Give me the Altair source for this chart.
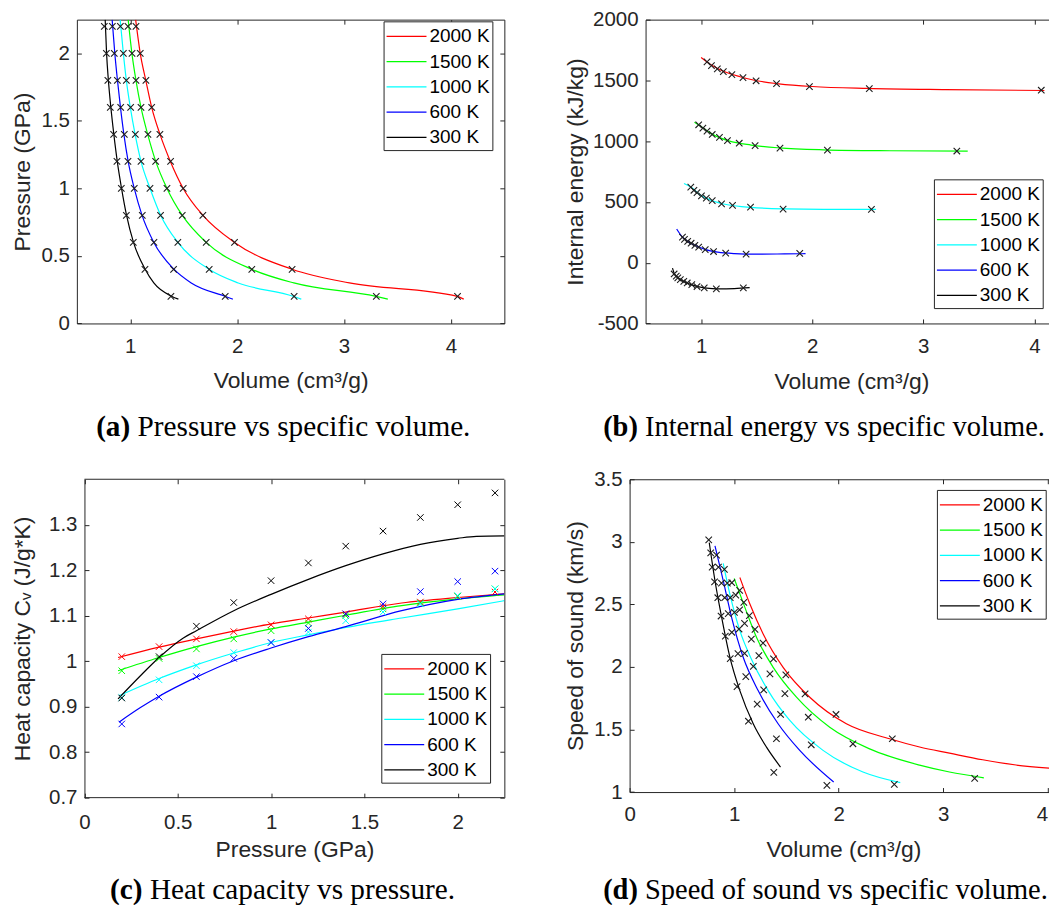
import altair as alt
import pandas as pd

# ---------------- data ----------------
TEMPS = ["2000 K", "1500 K", "1000 K", "600 K", "300 K"]
COLORS = ["#ff0000", "#00ff00", "#00ffff", "#0000ff", "#000000"]

# pressures of the simulated states (GPa)
P_PTS = [0.2, 0.4, 0.6, 0.8, 1.0, 1.2, 1.4, 1.6, 1.8, 2.0, 2.2]

# specific volume of the simulated states (cm3/g), same order as P_PTS
V_2000 = [4.062, 2.514, 1.975, 1.679, 1.495, 1.377, 1.277, 1.200, 1.146, 1.093, 1.053]
V_1500 = [3.302, 2.137, 1.710, 1.486, 1.343, 1.237, 1.165, 1.100, 1.053, 1.016, 0.978]
V_1000 = [2.533, 1.738, 1.445, 1.283, 1.184, 1.100, 1.047, 1.003, 0.963, 0.935, 0.907]
V_600 = [1.888, 1.405, 1.221, 1.112, 1.037, 0.978, 0.944, 0.910, 0.879, 0.850, 0.832]
V_300 = [1.380, 1.137, 1.028, 0.963, 0.916, 0.875, 0.844, 0.813, 0.790, 0.776, 0.757]

# (a) fitted isotherms: pressure grid and volume
CA_P = [0.18, 0.2, 0.3, 0.4, 0.6, 0.8, 1.0, 1.2, 1.4, 1.6, 1.8, 2.0, 2.25]
CA_V_2000 = [4.12, 4.06, 3.05, 2.52, 1.975, 1.68, 1.495, 1.375, 1.278, 1.20, 1.145, 1.093, 1.05]
CA_V_1500 = [3.41, 3.30, 2.53, 2.14, 1.71, 1.487, 1.343, 1.238, 1.163, 1.10, 1.053, 1.015, 0.98]
CA_V_1000 = [2.60, 2.53, 2.01, 1.74, 1.445, 1.285, 1.185, 1.10, 1.045, 1.0, 0.963, 0.935, 0.905]
CA_V_600 = [1.96, 1.89, 1.57, 1.41, 1.22, 1.11, 1.037, 0.98, 0.94, 0.908, 0.88, 0.855, 0.83]
CA_V_300 = [1.45, 1.39, 1.22, 1.14, 1.03, 0.965, 0.918, 0.878, 0.846, 0.818, 0.795, 0.778, 0.765]

# (b) internal energy of the states (kJ/kg)
E_2000 = [1419, 1433, 1449, 1473, 1497, 1523, 1547, 1573, 1595, 1621, 1653]
E_1500 = [919, 927, 943, 963, 983, 1005, 1031, 1055, 1082, 1108, 1135]
E_1000 = [439, 441, 457, 471, 484, 510, 532, 550, 577, 596, 622]
E_600 = [76, 70, 79, 92, 108, 128, 143, 160, 175, 192, 210]
E_300 = [-207, -216, -207, -196, -181, -167, -153, -140, -125, -110, -93]

# (b) fitted curves
CB_V_2000 = [1.00, 1.10, 1.20, 1.35, 1.50, 1.70, 2.00, 2.50, 3.20, 4.09]
CB_E_2000 = [1688, 1622, 1575, 1530, 1497, 1472, 1450, 1434, 1424, 1417]
CB_V_1500 = [0.94, 1.00, 1.10, 1.25, 1.45, 1.70, 2.10, 2.70, 3.40]
CB_E_1500 = [1156, 1120, 1058, 1002, 968, 945, 929, 921, 918]
CB_V_1000 = [0.846, 0.91, 1.00, 1.10, 1.25, 1.45, 1.75, 2.10, 2.575]
CB_E_1000 = [651, 620, 552, 510, 475, 455, 443, 439, 439]
CB_V_600 = [0.78, 0.83, 0.88, 0.95, 1.04, 1.15, 1.30, 1.50, 1.75, 1.94]
CB_E_600 = [277, 212, 175, 141, 108, 87, 75, 70, 72, 74]
CB_V_300 = [0.742, 0.76, 0.79, 0.84, 0.90, 0.97, 1.05, 1.15, 1.30, 1.437]
CB_E_300 = [-45, -92, -125, -153, -176, -197, -210, -216, -213, -205]

# (c) heat capacity of the states (J/g*K), same order as P_PTS
CV_2000 = [1.010, 1.032, 1.049, 1.065, 1.080, 1.093, 1.104, 1.120, 1.130, 1.143, 1.152]
CV_1500 = [0.979, 1.006, 1.027, 1.049, 1.067, 1.084, 1.100, 1.115, 1.128, 1.143, 1.159]
CV_1000 = [0.920, 0.959, 0.990, 1.019, 1.041, 1.064, 1.089, 1.108, 1.126, 1.144, 1.159]
CV_600 = [0.862, 0.921, 0.966, 1.006, 1.041, 1.072, 1.104, 1.126, 1.153, 1.175, 1.198]
CV_300 = [0.919, 1.010, 1.077, 1.129, 1.177, 1.216, 1.253, 1.286, 1.316, 1.344, 1.370]

# (c) fitted curves
CC_P_2000 = [0.18, 0.4, 0.6, 0.8, 1.0, 1.2, 1.4, 1.7, 2.0, 2.25]
CC_C_2000 = [1.008, 1.031, 1.049, 1.066, 1.082, 1.095, 1.108, 1.128, 1.140, 1.148]
CC_P_1500 = [0.18, 0.4, 0.6, 0.8, 1.0, 1.2, 1.4, 1.7, 2.0, 2.25]
CC_C_1500 = [0.979, 1.008, 1.032, 1.053, 1.071, 1.086, 1.101, 1.122, 1.137, 1.146]
CC_P_1000 = [0.185, 0.4, 0.6, 0.8, 1.0, 1.2, 1.4, 1.7, 2.0, 2.25]
CC_C_1000 = [0.924, 0.962, 0.992, 1.018, 1.041, 1.058, 1.074, 1.095, 1.115, 1.133]
CC_P_600 = [0.185, 0.3, 0.4, 0.6, 0.8, 1.0, 1.2, 1.4, 1.7, 2.0, 2.25]
CC_C_600 = [0.866, 0.898, 0.923, 0.965, 1.001, 1.029, 1.054, 1.076, 1.111, 1.136, 1.148]
CC_P_300 = [0.18, 0.3, 0.4, 0.53, 0.6, 0.8, 1.0, 1.2, 1.4, 1.6, 1.8, 2.0, 2.1, 2.25]
CC_C_300 = [0.917, 0.968, 1.008, 1.051, 1.067, 1.111, 1.147, 1.180, 1.210, 1.236, 1.257, 1.270, 1.2745, 1.2755]

# (d) speed of sound of the states (km/s), same order as P_PTS
S_2000 = [1.187, 1.426, 1.620, 1.785, 1.936, 2.064, 2.191, 2.300, 2.410, 2.516, 2.612]
S_1500 = [1.109, 1.386, 1.598, 1.787, 1.944, 2.090, 2.223, 2.348, 2.457, 2.574, 2.673]
S_1000 = [1.061, 1.378, 1.620, 1.816, 2.005, 2.109, 2.303, 2.436, 2.553, 2.670, 2.779]
S_600 = [1.053, 1.426, 1.702, 1.923, 2.106, 2.277, 2.426, 2.553, 2.670, 2.798, 2.894]
S_300 = [1.157, 1.566, 1.843, 2.066, 2.247, 2.407, 2.553, 2.680, 2.798, 2.912, 3.016]

# (d) fitted curves
CD_V_2000 = [1.055, 1.151, 1.278, 1.469, 1.724, 2.074, 2.488, 2.775, 3.061, 3.379, 3.698, 4.09]
CD_S_2000 = [2.715, 2.503, 2.264, 1.997, 1.758, 1.546, 1.426, 1.36, 1.311, 1.258, 1.216, 1.186]
CD_V_1500 = [1.001, 1.103, 1.215, 1.374, 1.597, 1.915, 2.297, 2.775, 3.061, 3.39]
CD_S_1500 = [2.707, 2.476, 2.236, 1.997, 1.758, 1.518, 1.345, 1.215, 1.16, 1.114]
CD_V_1000 = [0.896, 0.96, 1.055, 1.167, 1.326, 1.533, 1.851, 2.233, 2.59]
CD_S_1000 = [2.827, 2.58, 2.29, 2.06, 1.811, 1.572, 1.333, 1.16, 1.075]
CD_V_600 = [0.817, 0.896, 0.976, 1.087, 1.23, 1.421, 1.628, 1.953]
CD_S_600 = [2.968, 2.689, 2.396, 2.077, 1.811, 1.546, 1.333, 1.08]
CD_V_300 = [0.762, 0.817, 0.881, 0.96, 1.055, 1.183, 1.31, 1.444]
CD_S_300 = [2.994, 2.689, 2.396, 2.077, 1.811, 1.546, 1.359, 1.2]

# axis limits
A_XLIM = [0.5, 4.5]
A_YLIM = [0, 2.25]
B_YLIM = [-500, 2000]
C_XLIM = [0, 2.25]
C_YLIM = [0.7, 1.4]
D_YLIM = [1, 3.5]

# ---------------- tables ----------------
def long_df(xcol, ycol, xs_by_t, ys_by_t):
    rows = []
    for t, xs, ys in zip(TEMPS, xs_by_t, ys_by_t):
        for xv, yv in zip(xs, ys):
            rows.append({xcol: xv, ycol: yv, "T": t})
    return pd.DataFrame(rows)

V_ALL = [V_2000, V_1500, V_1000, V_600, V_300]
P_ALL = [P_PTS] * 5

pts_a = long_df("V", "P", V_ALL, P_ALL)
cur_a = long_df("V", "P", [CA_V_2000, CA_V_1500, CA_V_1000, CA_V_600, CA_V_300], [CA_P] * 5)
pts_b = long_df("V", "E", V_ALL, [E_2000, E_1500, E_1000, E_600, E_300])
cur_b = long_df("V", "E", [CB_V_2000, CB_V_1500, CB_V_1000, CB_V_600, CB_V_300],
                [CB_E_2000, CB_E_1500, CB_E_1000, CB_E_600, CB_E_300])
pts_c = long_df("P", "C", P_ALL, [CV_2000, CV_1500, CV_1000, CV_600, CV_300])
cur_c = long_df("P", "C", [CC_P_2000, CC_P_1500, CC_P_1000, CC_P_600, CC_P_300],
                [CC_C_2000, CC_C_1500, CC_C_1000, CC_C_600, CC_C_300])
pts_d = long_df("V", "S", V_ALL, [S_2000, S_1500, S_1000, S_600, S_300])
cur_d = long_df("V", "S", [CD_V_2000, CD_V_1500, CD_V_1000, CD_V_600, CD_V_300],
                [CD_S_2000, CD_S_1500, CD_S_1000, CD_S_600, CD_S_300])

# box of panel (c): its edges at the axis limits
frame_c = pd.DataFrame({"x0": [C_XLIM[0]] * 2, "x1": [C_XLIM[1]] * 2, "y": C_YLIM})

ONE = pd.DataFrame({"k": [0]})

# ---------------- styling ----------------
FONT = "Liberation Sans"
SERIF = "Liberation Serif"
INK = "#262626"
XMARK = "M-1,-1L1,1M-1,1L1,-1"
LEG_SYMBOL = "M-1,0H2.333"
LBL_FS = 20.5
TTL_FS = 22.9
TICK = 4.5
LBL = "'' + datum.value"


def panel(curves, points, xf, yf, c, frame=None):
    W, H = c["W"], c["H"]
    sh = c.get("shift", 0)  # left border sits this many px inside the view
    xsc = alt.Scale(domain=c["xdom"], nice=False, zero=False)
    ysc = alt.Scale(domain=c["ydom"], nice=False, zero=False)
    cscale = alt.Scale(domain=TEMPS, range=COLORS)
    xdomain_line = frame is None
    cap_fs = c["capfs"]

    ax_bottom = alt.Axis(orient="bottom", values=c["xticks"], labelExpr=LBL, labelFont=FONT,
                         labelFontSize=LBL_FS, labelColor=INK, labelPadding=c["xlp"],
                         labelAlign=c.get("xalign", "center"),
                         labelFlush=False, labelOverlap=False, ticks=False, tickSize=0,
                         domain=xdomain_line, domainColor=INK, domainWidth=1, grid=False,
                         title=c["xtitle"], titleFont=FONT, titleFontSize=TTL_FS,
                         titleFontWeight="normal", titleColor=INK, titleX=sh + (W - sh) / 2,
                         titleY=c["xty"], titleAlign="center", titleBaseline="middle",
                         titleAngle=0)
    ax_left = alt.Axis(orient="left", offset=-sh, values=c["yticks"], labelExpr=LBL,
                       labelFont=FONT, labelFontSize=LBL_FS, labelColor=INK, labelPadding=7.5,
                       labelFlush=False, labelOverlap=False, ticks=False, tickSize=0,
                       domain=True, domainColor=INK, domainWidth=1, grid=False,
                       title=c["ytitle"], titleFont=FONT, titleFontSize=TTL_FS,
                       titleFontWeight="normal", titleColor=INK, titleX=c["ytx"],
                       titleY=H / 2, titleAngle=270, titleAlign="center",
                       titleBaseline="middle")
    ax_top = alt.Axis(orient="bottom", offset=-H, values=c["xticks"], labels=False,
                      ticks=True, tickSize=TICK, tickColor=INK, tickWidth=1,
                      domain=xdomain_line, domainColor=INK, domainWidth=1, grid=False,
                      title=None)
    ax_right = alt.Axis(orient="left", offset=-W, values=c["yticks"], labels=False,
                        ticks=True, tickSize=TICK, tickColor=INK, tickWidth=1,
                        domain=c["rdom"], domainColor=INK, domainWidth=1, grid=False,
                        title=None)
    ax_bin = alt.Axis(orient="top", offset=-H, values=c["xticks"], labels=False,
                      ticks=True, tickSize=TICK, tickColor=INK, tickWidth=1,
                      domain=False, grid=False, title=None)
    ax_lin = alt.Axis(orient="right", offset=sh - W, values=c["yticks"], labels=False,
                      ticks=True, tickSize=TICK, tickColor=INK, tickWidth=1,
                      domain=False, grid=False, title=None)

    legend = alt.Legend(orient="none", legendX=c["legx"], legendY=c["legy"], title=None,
                        symbolType=LEG_SYMBOL, symbolSize=576, symbolStrokeWidth=1.2,
                        labelFont=FONT, labelFontSize=19, labelColor="black",
                        labelOffset=18, padding=2, rowPadding=2.3, strokeColor=INK,
                        fillColor="white", labelLimit=300)

    lines = alt.Chart(curves).mark_line(clip=True, strokeWidth=1.2,
                                         interpolate="monotone").encode(
        x=alt.X(f"{xf}:Q", scale=xsc, axis=ax_bottom),
        y=alt.Y(f"{yf}:Q", scale=ysc, axis=ax_left),
        color=alt.Color("T:N", scale=cscale, legend=legend),
    )
    if c["colored"]:
        marks = alt.Chart(points).mark_point(shape=XMARK, filled=False, size=42,
                                             strokeWidth=1, opacity=1, clip=True).encode(
            x=alt.X(f"{xf}:Q", scale=xsc, axis=ax_top),
            y=alt.Y(f"{yf}:Q", scale=ysc, axis=ax_right),
            stroke=alt.Stroke("T:N", scale=alt.Scale(domain=TEMPS, range=COLORS),
                              legend=None),
        )
    else:
        marks = alt.Chart(points).mark_point(shape=XMARK, filled=False, size=42,
                                             strokeWidth=1.1, opacity=1, clip=True,
                                             color="#1e1e1e").encode(
            x=alt.X(f"{xf}:Q", scale=xsc, axis=ax_top),
            y=alt.Y(f"{yf}:Q", scale=ysc, axis=ax_right),
        )
    dummy = alt.Chart(points).mark_point(opacity=0, size=1, clip=True).encode(
        x=alt.X(f"{xf}:Q", scale=xsc, axis=ax_bin),
        y=alt.Y(f"{yf}:Q", scale=ysc, axis=ax_lin),
    )
    ext = alt.Chart(ONE).mark_rule(opacity=0, strokeWidth=1).encode(
        x=alt.value(c["extL"]), y=alt.value(c["extT"]), y2=alt.value(c["extB"]))
    cap_b = alt.Chart(ONE).mark_text(text=c["capb"], font=SERIF, fontSize=cap_fs,
                                     fontWeight="bold", align="right",
                                     baseline="alphabetic", color="black").encode(
        x=alt.value(c["capx"]), y=alt.value(c["capy"]))
    cap_r = alt.Chart(ONE).mark_text(text=c["capr"], font=SERIF, fontSize=cap_fs,
                                     fontWeight="normal", align="left",
                                     baseline="alphabetic", color="black").encode(
        x=alt.value(c["capx"] + 0.25 * cap_fs), y=alt.value(c["capy"]))
    layers = [lines, marks, dummy, ext, cap_b, cap_r]
    if frame is not None:
        box = alt.Chart(frame).mark_rule(color=INK, strokeWidth=1).encode(
            x=alt.X("x0:Q", scale=xsc, axis=None), x2="x1",
            y=alt.Y("y:Q", scale=ysc, axis=None))
        layers.append(box)
    return alt.layer(*layers).resolve_axis(
        x="independent", y="independent").properties(width=W, height=H)


VOL_TITLE = "Volume (cm\u00b3/g)"

# page geometry (px): plot origins
AX0, BX0, DX0 = 76.7, 645.5, 629.5
TOP1 = 18.3                         # top of the upper row of plots
C_LEFT = 84.3                       # left border of (c)
C_SHIFT = C_LEFT - AX0
C_PX = (505 - C_LEFT) / (C_XLIM[1] - C_XLIM[0])
RIGHT = 1058.0
H1 = 322.7 - TOP1
CAP1, CAP2 = 29.3, 28.5             # caption sizes (left / right column)

cfg_a = dict(W=505 - AX0, H=H1, xdom=A_XLIM, ydom=A_YLIM,
             xticks=[1, 2, 3, 4], yticks=[0, 0.5, 1, 1.5, 2],
             xlp=13.4, xty=57.3, ytx=-54.1, xtitle=VOL_TITLE, ytitle="Pressure (GPa)",
             rdom=True, legx=384 - AX0, legy=20 - TOP1, colored=False,
             extL=8.5 - AX0, extT=-11, extB=455 - TOP1,
             capb="(a)", capr="Pressure vs specific volume.", capfs=CAP1,
             capx=96 + 1.166 * CAP1 - AX0, capy=435 - TOP1)
cfg_b = dict(W=RIGHT - BX0, H=H1,
             xdom=[0.5, 0.5 + (RIGHT - BX0) / 111.3], ydom=B_YLIM,
             xticks=[1, 2, 3, 4], yticks=[-500, 0, 500, 1000, 1500, 2000],
             xlp=13.4, xty=57.8, ytx=-70.3, xtitle=VOL_TITLE,
             ytitle="Internal energy (kJ/kg)",
             rdom=False, legx=934.4 - BX0, legy=178.3 - TOP1, colored=False,
             extL=555.5 - BX0, extT=-11, extB=455 - TOP1,
             capb="(b)", capr="Internal energy vs specific volume.", capfs=CAP2,
             capx=603 + 1.222 * CAP2 - BX0, capy=435 - TOP1)
cfg_c = dict(W=505 - AX0, H=319, shift=C_SHIFT,
             xdom=[C_XLIM[0] - C_SHIFT / C_PX, C_XLIM[1]], ydom=C_YLIM,
             xticks=[0, 0.5, 1, 1.5, 2], yticks=[0.7, 0.8, 0.9, 1.0, 1.1, 1.2, 1.3],
             xlp=14.6, xty=52.3, ytx=-62.2, xtitle="Pressure (GPa)",
             ytitle="Heat capacity C\u1d65 (J/g*K)",
             rdom=True, legx=381.7 - AX0, legy=175, colored=True,
             extL=8.5 - AX0, extT=-15, extB=906 - 478.3,
             capb="(c)", capr="Heat capacity vs pressure.", capfs=CAP1,
             capx=110 + 1.11 * CAP1 - AX0, capy=420.2)
cfg_d = dict(W=RIGHT - DX0, H=313.4, xdom=[0, (RIGHT - DX0) / 104.7], ydom=D_YLIM,
             xticks=[0, 1, 2, 3, 4], yticks=[1, 1.5, 2, 2.5, 3, 3.5],
             xalign={"condition": {"test": "datum.value == 4", "value": "right"},
                     "value": "center"},
             xlp=12.7, xty=57.9, ytx=-54.0, xtitle=VOL_TITLE,
             ytitle="Speed of sound (km/s)",
             rdom=False, legx=937.4 - DX0, legy=10.7, colored=False,
             extL=555.5 - DX0, extT=-15, extB=0,
             capb="(d)", capr="Speed of sound vs specific volume.", capfs=CAP2,
             capx=603 + 1.222 * CAP2 - DX0, capy=420.2)

pa = panel(cur_a, pts_a, "V", "P", cfg_a)
pb = panel(cur_b, pts_b, "V", "E", cfg_b)
pc = panel(cur_c, pts_c, "P", "C", cfg_c, frame=frame_c)
pd_ = panel(cur_d, pts_d, "V", "S", cfg_d)

row1 = alt.hconcat(pa, pb, spacing=48.8).resolve_scale(color="independent").resolve_legend(
    color="independent")
row2 = alt.hconcat(pc, pd_, spacing=48.8).resolve_scale(
    color="independent", stroke="independent").resolve_legend(
    color="independent", stroke="independent")

chart = alt.vconcat(row1, row2, spacing=6.5).resolve_scale(
    color="independent", stroke="independent").resolve_legend(
    color="independent", stroke="independent").properties(
    padding={"left": 0, "top": TOP1 - 8 - 11.5, "right": -10, "bottom": -3}
).configure_view(stroke="transparent")

chart.save("out.html", embed_options={"renderer": "svg", "actions": False})
